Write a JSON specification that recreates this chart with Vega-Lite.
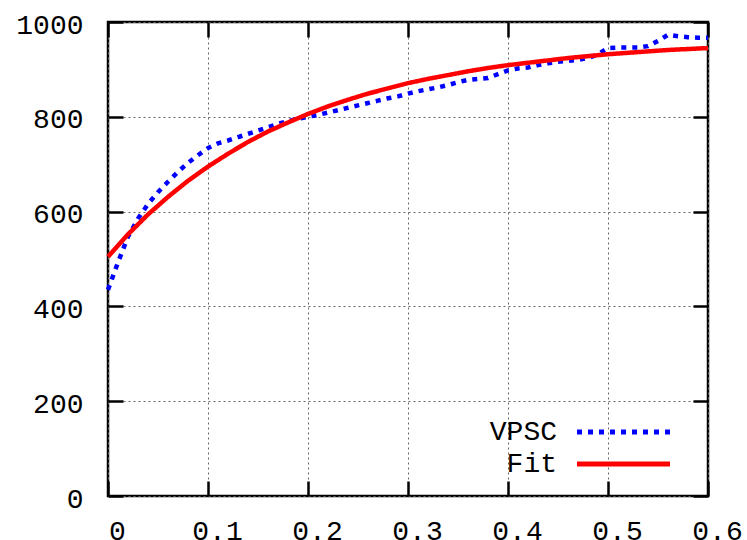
{
  "$schema": "https://vega.github.io/schema/vega-lite/v6.json",
  "width": 600,
  "height": 474,
  "autosize": {"type": "none"},
  "padding": {"left": 108, "top": 22, "right": 39, "bottom": 44},
  "background": "white",
  "config": {
    "view": {"stroke": "black", "strokeWidth": 2.5},
    "font": "Liberation Mono",
    "axis": {
      "domain": false,
      "tickColor": "black",
      "tickWidth": 2.5,
      "tickSize": -15,
      "labelFont": "Liberation Mono",
      "labelFontSize": 28,
      "labelColor": "black",
      "labelFlush": false,
      "labelOverlap": false,
      "labelBound": false,
      "gridColor": "#666666",
      "gridDash": [2, 3],
      "gridWidth": 1,
      "gridOpacity": 1,
      "title": null
    },
    "legend": {
      "orient": "none",
      "legendX": 497.5,
      "legendY": 392,
      "symbolType": "M-3,0H3",
      "symbolSize": 961,
      "symbolStrokeWidth": 5,
      "labelAlign": "right",
      "labelOffset": -84.5,
      "labelFont": "Liberation Mono",
      "labelFontSize": 28,
      "labelColor": "black",
      "rowPadding": 0,
      "title": null
    }
  },
  "data": {
    "values": [
      {"x": 0.00, "y": 435, "series": "VPSC"},
      {"x": 0.01, "y": 493, "series": "VPSC"},
      {"x": 0.02, "y": 547, "series": "VPSC"},
      {"x": 0.03, "y": 585, "series": "VPSC"},
      {"x": 0.04, "y": 616, "series": "VPSC"},
      {"x": 0.05, "y": 641, "series": "VPSC"},
      {"x": 0.06, "y": 663, "series": "VPSC"},
      {"x": 0.07, "y": 684, "series": "VPSC"},
      {"x": 0.08, "y": 703, "series": "VPSC"},
      {"x": 0.09, "y": 719, "series": "VPSC"},
      {"x": 0.10, "y": 734, "series": "VPSC"},
      {"x": 0.11, "y": 744, "series": "VPSC"},
      {"x": 0.12, "y": 750, "series": "VPSC"},
      {"x": 0.13, "y": 757, "series": "VPSC"},
      {"x": 0.14, "y": 764, "series": "VPSC"},
      {"x": 0.15, "y": 771, "series": "VPSC"},
      {"x": 0.16, "y": 778, "series": "VPSC"},
      {"x": 0.17, "y": 785, "series": "VPSC"},
      {"x": 0.18, "y": 791, "series": "VPSC"},
      {"x": 0.19, "y": 796, "series": "VPSC"},
      {"x": 0.20, "y": 800, "series": "VPSC"},
      {"x": 0.21, "y": 804, "series": "VPSC"},
      {"x": 0.22, "y": 809, "series": "VPSC"},
      {"x": 0.23, "y": 814, "series": "VPSC"},
      {"x": 0.24, "y": 819, "series": "VPSC"},
      {"x": 0.25, "y": 824, "series": "VPSC"},
      {"x": 0.26, "y": 829, "series": "VPSC"},
      {"x": 0.27, "y": 834, "series": "VPSC"},
      {"x": 0.28, "y": 839, "series": "VPSC"},
      {"x": 0.29, "y": 843, "series": "VPSC"},
      {"x": 0.30, "y": 849, "series": "VPSC"},
      {"x": 0.31, "y": 854, "series": "VPSC"},
      {"x": 0.32, "y": 858, "series": "VPSC"},
      {"x": 0.33, "y": 862, "series": "VPSC"},
      {"x": 0.34, "y": 867, "series": "VPSC"},
      {"x": 0.35, "y": 873, "series": "VPSC"},
      {"x": 0.36, "y": 878, "series": "VPSC"},
      {"x": 0.37, "y": 880, "series": "VPSC"},
      {"x": 0.38, "y": 882, "series": "VPSC"},
      {"x": 0.39, "y": 890, "series": "VPSC"},
      {"x": 0.40, "y": 898, "series": "VPSC"},
      {"x": 0.41, "y": 902, "series": "VPSC"},
      {"x": 0.42, "y": 904, "series": "VPSC"},
      {"x": 0.43, "y": 909, "series": "VPSC"},
      {"x": 0.44, "y": 913, "series": "VPSC"},
      {"x": 0.45, "y": 916, "series": "VPSC"},
      {"x": 0.46, "y": 918, "series": "VPSC"},
      {"x": 0.47, "y": 920, "series": "VPSC"},
      {"x": 0.48, "y": 924, "series": "VPSC"},
      {"x": 0.49, "y": 932, "series": "VPSC"},
      {"x": 0.50, "y": 945, "series": "VPSC"},
      {"x": 0.51, "y": 946, "series": "VPSC"},
      {"x": 0.52, "y": 946, "series": "VPSC"},
      {"x": 0.53, "y": 946, "series": "VPSC"},
      {"x": 0.54, "y": 949, "series": "VPSC"},
      {"x": 0.55, "y": 960, "series": "VPSC"},
      {"x": 0.56, "y": 973, "series": "VPSC"},
      {"x": 0.57, "y": 970, "series": "VPSC"},
      {"x": 0.58, "y": 968, "series": "VPSC"},
      {"x": 0.59, "y": 967, "series": "VPSC"},
      {"x": 0.60, "y": 967, "series": "VPSC"},
      {"x": 0.00, "y": 505, "series": "Fit"},
      {"x": 0.02, "y": 552, "series": "Fit"},
      {"x": 0.04, "y": 594, "series": "Fit"},
      {"x": 0.06, "y": 631, "series": "Fit"},
      {"x": 0.08, "y": 665, "series": "Fit"},
      {"x": 0.10, "y": 695, "series": "Fit"},
      {"x": 0.12, "y": 722, "series": "Fit"},
      {"x": 0.14, "y": 747, "series": "Fit"},
      {"x": 0.16, "y": 769, "series": "Fit"},
      {"x": 0.18, "y": 788, "series": "Fit"},
      {"x": 0.20, "y": 806, "series": "Fit"},
      {"x": 0.22, "y": 822, "series": "Fit"},
      {"x": 0.24, "y": 836, "series": "Fit"},
      {"x": 0.26, "y": 849, "series": "Fit"},
      {"x": 0.28, "y": 860, "series": "Fit"},
      {"x": 0.30, "y": 871, "series": "Fit"},
      {"x": 0.32, "y": 880, "series": "Fit"},
      {"x": 0.34, "y": 888, "series": "Fit"},
      {"x": 0.36, "y": 896, "series": "Fit"},
      {"x": 0.38, "y": 903, "series": "Fit"},
      {"x": 0.40, "y": 909, "series": "Fit"},
      {"x": 0.42, "y": 914, "series": "Fit"},
      {"x": 0.44, "y": 919, "series": "Fit"},
      {"x": 0.46, "y": 924, "series": "Fit"},
      {"x": 0.48, "y": 928, "series": "Fit"},
      {"x": 0.50, "y": 932, "series": "Fit"},
      {"x": 0.52, "y": 935, "series": "Fit"},
      {"x": 0.54, "y": 938, "series": "Fit"},
      {"x": 0.56, "y": 941, "series": "Fit"},
      {"x": 0.58, "y": 943, "series": "Fit"},
      {"x": 0.60, "y": 945, "series": "Fit"}
    ]
  },
  "layer": [
    {
      "mark": {"type": "line", "opacity": 0},
      "encoding": {
        "x": {"field": "x", "type": "quantitative", "scale": {"domain": [0, 0.6], "nice": false},
              "axis": {"orient": "top", "values": [0, 0.1, 0.2, 0.3, 0.4, 0.5, 0.6], "labels": false, "grid": false}},
        "y": {"field": "y", "type": "quantitative", "scale": {"domain": [0, 1000], "nice": false},
              "axis": {"orient": "right", "values": [0, 200, 400, 600, 800, 1000], "labels": false, "grid": false}},
        "detail": {"field": "series"}
      }
    },
    {
      "mark": {"type": "line", "strokeWidth": 4.5, "strokeCap": "butt", "strokeJoin": "miter"},
      "encoding": {
        "x": {"field": "x", "type": "quantitative",
              "axis": {"orient": "bottom", "values": [0, 0.1, 0.2, 0.3, 0.4, 0.5, 0.6], "format": ".1~f", "grid": true, "labelPadding": 36, "labelOffset": 9}},
        "y": {"field": "y", "type": "quantitative",
              "axis": {"orient": "left", "values": [0, 200, 400, 600, 800, 1000], "format": "d", "grid": true, "labelPadding": 40, "labelOffset": 3}},
        "color": {"field": "series", "type": "nominal",
                  "scale": {"domain": ["VPSC", "Fit"], "range": ["#0000ff", "#ff0000"]}},
        "strokeDash": {"field": "series", "type": "nominal",
                       "scale": {"domain": ["VPSC", "Fit"], "range": [[5, 6], [1, 0]]}}
      }
    }
  ],
  "resolve": {"axis": {"x": "independent", "y": "independent"}}
}
